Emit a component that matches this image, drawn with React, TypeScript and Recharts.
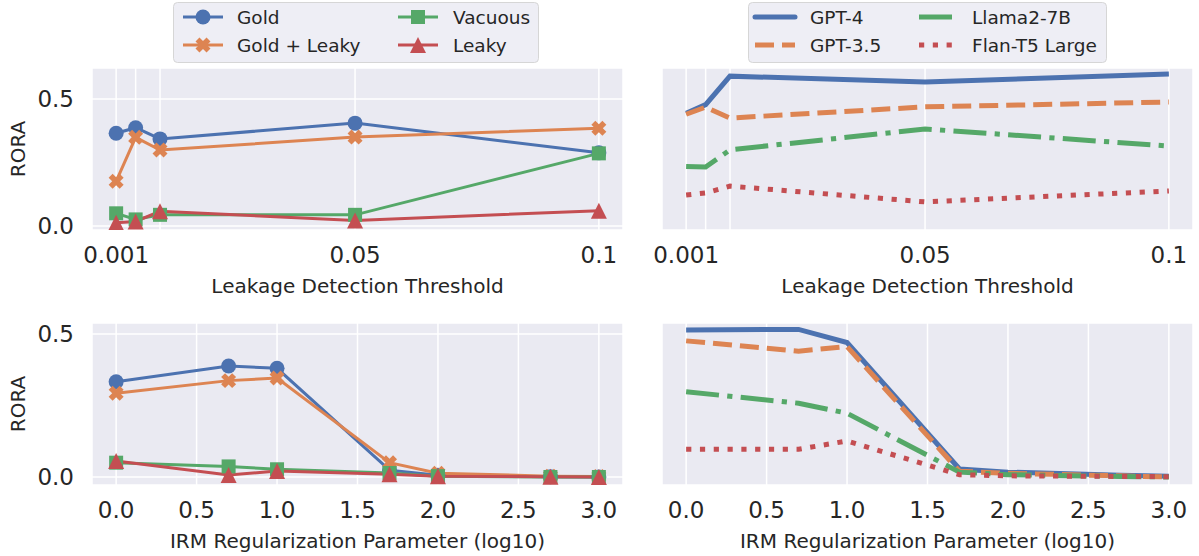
import React from 'react'
import { LineChart, Line, XAxis, YAxis, CartesianGrid } from 'recharts'

const BLUE = '#4C72B0'
const ORANGE = '#DD8452'
const GREEN = '#55A868'
const RED = '#C44E52'
const INK = '#262626'
const FONT = '"DejaVu Sans", sans-serif'

// x values
const thresholds = [0.001, 0.005, 0.01, 0.05, 0.1]
const thresholdLabels: Record<string, string> = { '0.001': '0.001', '0.05': '0.05', '0.1': '0.1' }
const irmLog = [0, 0.699, 1, 1.699, 2, 2.699, 3]
const irmTicks = [0, 0.5, 1, 1.5, 2, 2.5, 3]
const roraTicks = [0, 0.5]

// leakage threshold, by annotation type
const goldThr = [0.365, 0.387, 0.343, 0.405, 0.288]
const goldLeakyThr = [0.176, 0.349, 0.299, 0.35, 0.385]
const vacuousThr = [0.05, 0.026, 0.044, 0.044, 0.286]
const leakyThr = [0.013, 0.018, 0.058, 0.022, 0.06]

// leakage threshold, by model
const gpt4Thr = [0.444, 0.478, 0.59, 0.567, 0.598]
const gpt35Thr = [0.44, 0.468, 0.425, 0.469, 0.488]
const llamaThr = [0.234, 0.232, 0.3, 0.382, 0.315]
const flanThr = [0.122, 0.13, 0.157, 0.095, 0.138]

// IRM, by annotation type
const goldIrm = [0.333, 0.388, 0.38, 0.024, 0.006, 0.001, 0.0]
const goldLeakyIrm = [0.293, 0.337, 0.346, 0.05, 0.013, 0.003, 0.002]
const vacuousIrm = [0.05, 0.037, 0.027, 0.014, 0.003, 0.0, 0.0]
const leakyIrm = [0.056, 0.007, 0.021, 0.01, 0.003, 0.001, 0.0]

// IRM, by model
const gpt4Irm = [0.514, 0.516, 0.47, 0.028, 0.017, 0.006, 0.003]
const gpt35Irm = [0.476, 0.44, 0.456, 0.02, 0.013, 0.004, 0.0]
const llamaIrm = [0.298, 0.258, 0.223, 0.017, 0.008, 0.002, 0.0]
const flanIrm = [0.097, 0.097, 0.126, 0.008, 0.004, 0.002, 0.001]

const annSeries = [
  { key: 'gold', name: 'Gold', color: BLUE, shape: 'circle' },
  { key: 'goldLeaky', name: 'Gold + Leaky', color: ORANGE, shape: 'x' },
  { key: 'vacuous', name: 'Vacuous', color: GREEN, shape: 'square' },
  { key: 'leaky', name: 'Leaky', color: RED, shape: 'triangle' },
]

const modelSeries = [
  { key: 'gpt4', name: 'GPT-4', color: BLUE, dash: undefined },
  { key: 'gpt35', name: 'GPT-3.5', color: ORANGE, dash: '19 8' },
  { key: 'llama', name: 'Llama2-7B', color: GREEN, dash: '33 8.3 5.2 8.3' },
  { key: 'flan', name: 'Flan-T5 Large', color: RED, dash: '5.2 8.6' },
]

const thrAnn = thresholds.map((x, i) => ({ x, gold: goldThr[i], goldLeaky: goldLeakyThr[i], vacuous: vacuousThr[i], leaky: leakyThr[i] }))
const thrModel = thresholds.map((x, i) => ({ x, gpt4: gpt4Thr[i], gpt35: gpt35Thr[i], llama: llamaThr[i], flan: flanThr[i] }))
const irmAnn = irmLog.map((x, i) => ({ x, gold: goldIrm[i], goldLeaky: goldLeakyIrm[i], vacuous: vacuousIrm[i], leaky: leakyIrm[i] }))
const irmModel = irmLog.map((x, i) => ({ x, gpt4: gpt4Irm[i], gpt35: gpt35Irm[i], llama: llamaIrm[i], flan: flanIrm[i] }))

function Marker({ shape, color, cx, cy }: { shape: string, color: string, cx: number, cy: number }) {
  if (shape === 'circle') return <circle cx={cx} cy={cy} r={7.5} fill={color} />
  if (shape === 'square') return <rect x={cx - 7} y={cy - 7} width={14} height={14} fill={color} />
  if (shape === 'triangle') return <polygon points={`${cx},${cy - 8} ${cx - 8},${cy + 8} ${cx + 8},${cy + 8}`} fill={color} />
  const a = 2.8, l = 7.8
  const pts = [[-a, -l], [a, -l], [a, -a], [l, -a], [l, a], [a, a], [a, l], [-a, l], [-a, a], [-l, a], [-l, -a], [-a, -a]]
  return <polygon points={pts.map(p => p.join(',')).join(' ')} fill={color} transform={`translate(${cx},${cy}) rotate(45)`} />
}

const dotFor = (shape: string, color: string) => (p: any) =>
  <Marker key={`${shape}-${p.index}`} shape={shape} color={color} cx={p.cx} cy={p.cy} />

const PLOT_W = 531
const PLOT_H = 162
const AXIS_H = 70
const M_TOP = 20
const M_RIGHT = 20

function Panel({ left, top, data, xDomain, xTicks, xFmt, yDomain, xLabel, showY, kind }: any) {
  const yW = showY ? 92 : 0
  const mL = showY ? 0 : 40
  return (
    <div style={{ position: 'absolute', left: left - yW - mL, top: top - M_TOP }}>
      <LineChart width={PLOT_W + yW + mL + M_RIGHT} height={PLOT_H + AXIS_H + M_TOP} data={data} margin={{ top: M_TOP, right: M_RIGHT, bottom: 0, left: mL }}>
        <CartesianGrid fill="#EAEAF2" fillOpacity={1} stroke="#ffffff" strokeWidth={1.5} />
        <XAxis
          type="number"
          dataKey="x"
          domain={xDomain}
          allowDataOverflow
          ticks={xTicks}
          interval={0}
          tickFormatter={xFmt}
          axisLine={false}
          tickLine={false}
          tickSize={0}
          tickMargin={17}
          height={AXIS_H}
          tick={{ fill: INK, fontSize: 23, fontFamily: FONT }}
          label={{ value: xLabel, position: 'insideBottom', offset: 7, fill: INK, fontSize: 20, fontFamily: FONT }}
        />
        <YAxis
          type="number"
          domain={yDomain}
          allowDataOverflow
          ticks={roraTicks}
          interval={0}
          width={yW}
          tick={showY ? { fill: INK, fontSize: 23, fontFamily: FONT } : false}
          tickFormatter={(v: number) => v.toFixed(1)}
          axisLine={false}
          tickLine={false}
          tickSize={0}
          tickMargin={18}
          label={showY ? { value: 'RORA', angle: -90, position: 'insideLeft', offset: 18, fill: INK, fontSize: 20, fontFamily: FONT, style: { textAnchor: 'middle' } } : undefined}
        />
        {kind === 'ann'
          ? annSeries.map(s => (
            <Line key={s.key} dataKey={s.key} name={s.name} type="linear" stroke={s.color} strokeWidth={3}
              dot={dotFor(s.shape, s.color)} activeDot={false} isAnimationActive={false} />
          ))
          : modelSeries.map(s => (
            <Line key={s.key} dataKey={s.key} name={s.name} type="linear" stroke={s.color} strokeWidth={5}
              strokeDasharray={s.dash} strokeLinecap="butt" dot={false} activeDot={false} isAnimationActive={false} />
          ))}
      </LineChart>
    </div>
  )
}

function AnnLegend() {
  const cols = [{ hx: 183, tx: 237 }, { hx: 398, tx: 453 }]
  const rows = [17, 45]
  return (
    <svg width={1199} height={66} style={{ position: 'absolute', left: 0, top: 0 }}>
      <rect x={173.5} y={2.5} width={365} height={60} rx={4} fill="#EEEEF5" stroke="#d6d6d6" />
      {annSeries.map((s, i) => {
        const c = cols[Math.floor(i / 2)]
        const y = rows[i % 2]
        return (
          <g key={s.key}>
            <line x1={c.hx} x2={c.hx + 40} y1={y} y2={y} stroke={s.color} strokeWidth={3} />
            <Marker shape={s.shape} color={s.color} cx={c.hx + 20} cy={y} />
            <text x={c.tx} y={y} dominantBaseline="central" fontSize={18.5} fontFamily={FONT} fill={INK}>{s.name}</text>
          </g>
        )
      })}
    </svg>
  )
}

function ModelLegend() {
  const cols = [{ hx: 755, tx: 810 }, { hx: 919, tx: 972 }]
  const rows = [17, 45]
  return (
    <svg width={1199} height={66} style={{ position: 'absolute', left: 0, top: 0 }}>
      <rect x={748.5} y={2.5} width={358} height={60} rx={4} fill="#EEEEF5" stroke="#d6d6d6" />
      {modelSeries.map((s, i) => {
        const c = cols[Math.floor(i / 2)]
        const y = rows[i % 2]
        return (
          <g key={s.key}>
            <line x1={c.hx} x2={c.hx + 40} y1={y} y2={y} stroke={s.color} strokeWidth={5} strokeDasharray={s.dash} strokeLinecap={s.dash ? 'butt' : 'round'} />
            <text x={c.tx} y={y} dominantBaseline="central" fontSize={18.5} fontFamily={FONT} fill={INK}>{s.name}</text>
          </g>
        )
      })}
    </svg>
  )
}

const thrFmt = (v: number) => thresholdLabels[String(v)] ?? ''
const irmFmt = (v: number) => v.toFixed(1)
const thrDomain = [-0.00395, 0.10495]
const irmDomain = [-0.15, 3.15]
const topY = [-0.0157, 0.622]
const bottomY = [-0.028, 0.5385]

export default function App() {
  return (
    <div style={{ position: 'absolute', left: 0, top: 0, width: 1199, height: 556, background: '#fff', fontFamily: FONT }}>
      <Panel left={92} top={68} data={thrAnn} kind="ann" showY xDomain={thrDomain} xTicks={thresholds} xFmt={thrFmt} yDomain={topY} xLabel="Leakage Detection Threshold" />
      <Panel left={662} top={68} data={thrModel} kind="model" showY={false} xDomain={thrDomain} xTicks={thresholds} xFmt={thrFmt} yDomain={topY} xLabel="Leakage Detection Threshold" />
      <Panel left={92} top={323} data={irmAnn} kind="ann" showY xDomain={irmDomain} xTicks={irmTicks} xFmt={irmFmt} yDomain={bottomY} xLabel="IRM Regularization Parameter (log10)" />
      <Panel left={662} top={323} data={irmModel} kind="model" showY={false} xDomain={irmDomain} xTicks={irmTicks} xFmt={irmFmt} yDomain={bottomY} xLabel="IRM Regularization Parameter (log10)" />
      <AnnLegend />
      <ModelLegend />
    </div>
  )
}
